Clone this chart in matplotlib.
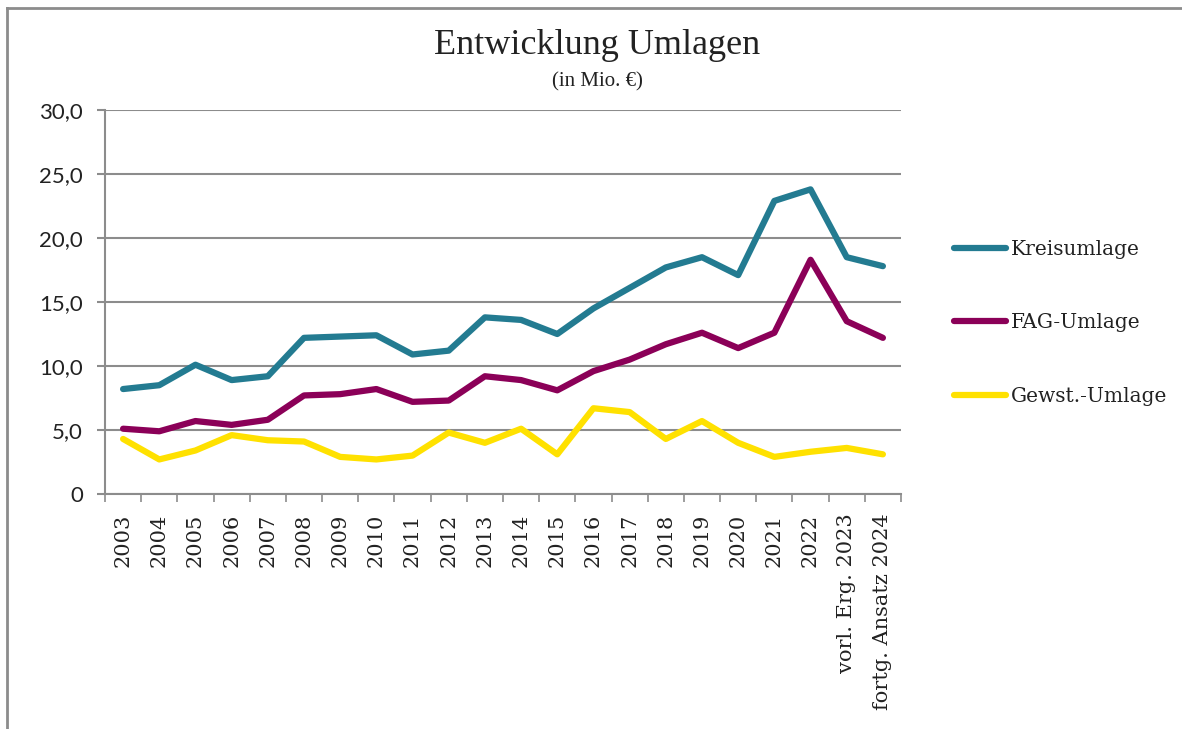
import numpy as np
import matplotlib.pyplot as plt
from matplotlib.lines import Line2D
from matplotlib.ticker import FixedLocator, FuncFormatter

years = ['2003', '2004', '2005', '2006', '2007', '2008', '2009', '2010', '2011',
         '2012', '2013', '2014', '2015', '2016', '2017', '2018', '2019', '2020',
         '2021', '2022', 'vorl. Erg. 2023', 'fortg. Ansatz 2024']

kreisumlage = [8.2, 8.5, 10.1, 8.9, 9.2, 12.2, 12.3, 12.4, 10.9, 11.2, 13.8,
               13.6, 12.5, 14.5, 16.1, 17.7, 18.5, 17.1, 22.9, 23.8, 18.5, 17.8]
fag_umlage = [5.1, 4.9, 5.7, 5.4, 5.8, 7.7, 7.8, 8.2, 7.2, 7.3, 9.2,
              8.9, 8.1, 9.6, 10.5, 11.7, 12.6, 11.4, 12.6, 18.3, 13.5, 12.2]
gewst_umlage = [4.3, 2.7, 3.4, 4.6, 4.2, 4.1, 2.9, 2.7, 3.0, 4.8, 4.0,
                5.1, 3.1, 6.7, 6.4, 4.3, 5.7, 4.0, 2.9, 3.3, 3.6, 3.1]

serif = 'DejaVu Serif'
title_font = 'Liberation Serif'
sans = 'Lato'
grid_col = '#8c8c8c'
txt_col = '#222222'

fig = plt.figure(figsize=(11.82, 7.29), dpi=100)
ax = fig.add_axes([105 / 1182, 1 - 494 / 729, 796 / 1182, 384 / 729])

x = np.arange(len(years))
ax.plot(x, kreisumlage, color='#237b91', lw=4.5, solid_capstyle='round', label='Kreisumlage')
ax.plot(x, fag_umlage, color='#8b0058', lw=4.5, solid_capstyle='round', label='FAG-Umlage')
ax.plot(x, gewst_umlage, color='#ffe100', lw=4.5, solid_capstyle='round', label='Gewst.-Umlage')

ax.set_xlim(-0.5, len(years) - 0.5)
ax.set_ylim(0, 30)
ax.set_yticks(np.arange(0, 31, 5))
ax.yaxis.set_major_formatter(FuncFormatter(lambda v, p: '0' if v == 0 else f'{v:.1f}'.replace('.', ',')))
ax.grid(axis='y', color=grid_col, lw=1.5)
ax.set_axisbelow(True)

ax.set_xticks(x)
ax.set_xticklabels(years, rotation=90, fontsize=15, family=serif, color=txt_col)
ax.xaxis.set_minor_locator(FixedLocator(np.arange(-0.5, len(years), 1)))
ax.tick_params(axis='x', which='major', length=0, pad=14)
ax.tick_params(axis='x', which='minor', length=6, color=grid_col, width=1.2)
ax.tick_params(axis='y', length=6, color=grid_col, width=1.5, labelsize=16, pad=10)
for lab in ax.get_yticklabels():
    lab.set_family(sans)
    lab.set_color(txt_col)

for s in ['top', 'right']:
    ax.spines[s].set_visible(False)
for s in ['left', 'bottom']:
    ax.spines[s].set_color(grid_col)
    ax.spines[s].set_linewidth(1.5)

fig.text(597 / 1182, 1 - 45 / 729, 'Entwicklung Umlagen', ha='center', va='center',
         fontsize=26, family=title_font, color=txt_col)
fig.text(597 / 1182, 1 - 82 / 729, '(in Mio. €)', ha='center', va='center',
         fontsize=15, family=title_font, color=txt_col)

leg = fig.legend(loc='upper left', bbox_to_anchor=(936 / 1182, 1 - 222 / 729),
                 frameon=False, prop={'family': serif, 'size': 14.5},
                 handlelength=2.6, handletextpad=0.2, labelspacing=2.7)
for t in leg.get_texts():
    t.set_color(txt_col)

fig.add_artist(Line2D([7 / 1182, 7 / 1182], [0, 1 - 8 / 729], transform=fig.transFigure,
                      color=grid_col, lw=2))
fig.add_artist(Line2D([7 / 1182, 1], [1 - 8 / 729, 1 - 8 / 729], transform=fig.transFigure,
                      color=grid_col, lw=2))

fig.savefig('out.png', dpi=100)
